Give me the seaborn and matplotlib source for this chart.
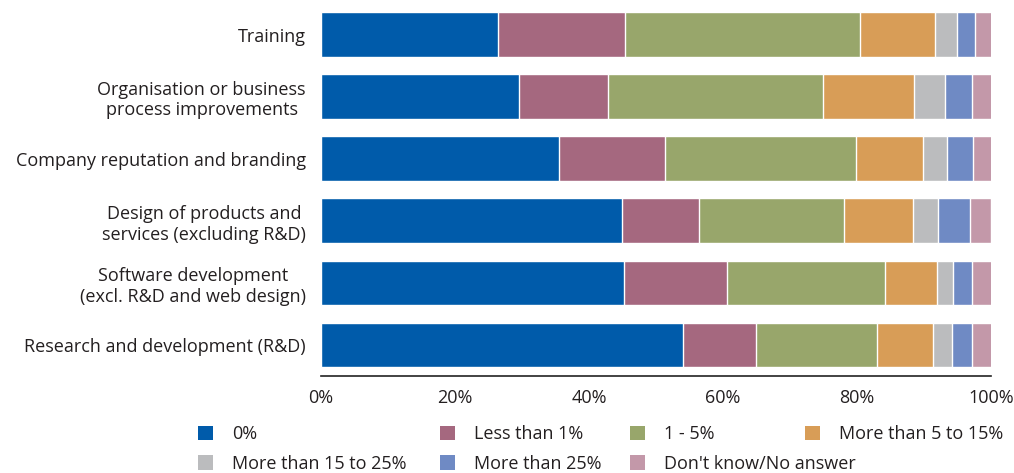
import numpy as np
import pandas as pd
import matplotlib.pyplot as plt
import seaborn as sns
from matplotlib.patches import Patch

categories = [
    "Training",
    "Organisation or business\nprocess improvements",
    "Company reputation and branding",
    "Design of products and\nservices (excluding R&D)",
    "Software development\n(excl. R&D and web design)",
    "Research and development (R&D)",
]
answers = ["0%", "Less than 1%", "1 - 5%", "More than 5 to 15%",
           "More than 15 to 25%", "More than 25%", "Don't know/No answer"]

zero_pct      = [26.4, 29.5, 35.5, 44.9, 45.2, 54.1]
less_than_1   = [19.0, 13.3, 15.8, 11.5, 15.4, 10.8]
one_to_5      = [35.1, 32.1, 28.5, 21.7, 23.6, 18.1]
five_to_15    = [11.1, 13.6, 10.1, 10.3, 7.7, 8.4]
fifteen_to_25 = [3.3, 4.6, 3.5, 3.7, 2.4, 2.8]
more_than_25  = [2.7, 4.1, 3.9, 4.8, 2.8, 3.0]
dont_know     = [2.5, 3.0, 3.0, 3.1, 3.1, 3.0]

colors = ["#005BAA", "#A5687F", "#98A66B", "#D89D57", "#BBBCBE", "#6F8AC4", "#C398A9"]

df = pd.DataFrame({
    "category": categories,
    answers[0]: zero_pct,
    answers[1]: less_than_1,
    answers[2]: one_to_5,
    answers[3]: five_to_15,
    answers[4]: fifteen_to_25,
    answers[5]: more_than_25,
    answers[6]: dont_know,
})
cum = df[answers].cumsum(axis=1)

sns.set_style("white")
plt.rcParams['font.family'] = ['Open Sans', 'DejaVu Sans']
text_col = "#231F20"
fs = 13

fig = plt.figure(figsize=(10.14, 4.73), dpi=100)
ax = fig.add_axes([0.3166, 0.205, 0.9773 - 0.3166, 0.7876])

# stacked bars: draw the longest cumulative first, shorter ones on top
for ans, col in reversed(list(zip(answers, colors))):
    sns.barplot(x=cum[ans], y=df["category"], orient="h", color=col,
                width=0.72, saturation=1, ax=ax)

ax.set_xlim(0, 100)
ax.set_xticks(np.arange(0, 101, 20))
ax.set_xticklabels([f"{v}%" for v in range(0, 101, 20)])
ax.set_xlabel("")
ax.set_ylabel("")
for s in ["top", "right", "left"]:
    ax.spines[s].set_visible(False)
ax.spines["bottom"].set_color("#222222")
ax.spines["bottom"].set_linewidth(1.2)
ax.tick_params(axis="both", length=0, labelsize=fs, colors=text_col)
ax.tick_params(axis="y", pad=11)
ax.tick_params(axis="x", pad=9)
for lbl in ax.get_yticklabels():
    lbl.set_multialignment("center")

# legend: fixed-width grid, one small legend per column
columns = [[0, 4], [1, 5], [2, 6], [3]]
col_x = [198, 440, 630, 805]
for idx, x0 in zip(columns, col_x):
    handles = [Patch(facecolor=colors[i], edgecolor="none", label=answers[i]) for i in idx]
    leg = fig.legend(handles=handles, loc="upper left",
                     bbox_to_anchor=(x0 / 1014, 1 - 425 / 473),
                     frameon=False, fontsize=fs, handlelength=0.85, handleheight=0.85,
                     handletextpad=1.05, labelspacing=0.66, borderpad=0,
                     borderaxespad=0, labelcolor=text_col)

fig.savefig("out.png", dpi=100)
